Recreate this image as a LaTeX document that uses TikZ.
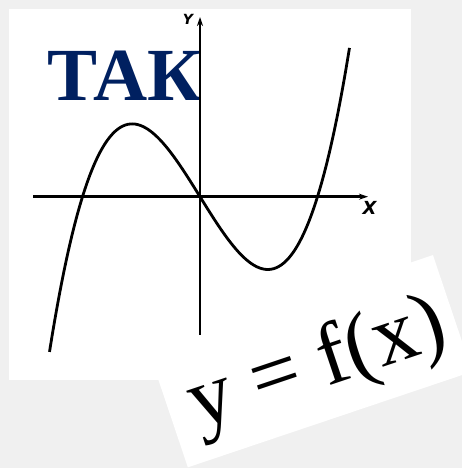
\documentclass[tikz,border=0pt]{standalone}
\usepackage{fontspec}
\setmainfont{Liberation Serif}
\newfontfamily\axisfont{DejaVu Sans}
\usepackage{xcolor}
\usepackage{tikz}
\usetikzlibrary{arrows.meta}

\definecolor{pagegrey}{RGB}{240,240,240}
\definecolor{takblue}{HTML}{002060}

\begin{document}
\begin{tikzpicture}[
    x=1pt, y=1pt,
    sheet/.style={fill=white, draw=none},
    axis/.style={line width=2.8pt, -{Stealth[length=9pt,width=6pt]}},
    curve/.style={line width=2.8pt, line join=round},
    axislabel/.style={inner sep=0pt},
    title/.style={inner sep=0pt, anchor=base west, text=takblue,
      font=\fontsize{75}{75}\selectfont\bfseries},
    formula/.style={inner sep=0pt, anchor=base, rotate=18.6,
      font=\fontsize{87}{87}\selectfont}
]
\useasboundingbox (0,0) rectangle (462,468);
\fill[pagegrey] (0,0) rectangle (462,468);
\clip (0,0) rectangle (462,468);

% paper sheets
\fill[sheet] (9,88) rectangle (411,459);
\node[sheet, rotate=18.6, minimum width=300pt, minimum height=123pt,
  inner sep=0pt] (card) at (310.4,106.8) {};

% heading
\node[title] (tak) at (47,367.3) {ТАК};

% axes
\coordinate (O) at (200,271.3);
\coordinate (xstart) at (33,271.3);
\coordinate (xend) at (368,271.3);
\coordinate (ystart) at (200,133);
\coordinate (yend) at (200,451);
\draw[axis] (xstart) -- (xend);
\draw[axis] (ystart) -- (yend);
\node[axislabel, font=\fontsize{18}{18}\axisfont\bfseries\itshape] (xlabel) at (369.5,260) {X};
\node[axislabel, font=\fontsize{14}{14}\axisfont\bfseries\itshape] (ylabel) at (188,449) {Y};

% graph of the cubic
\begin{scope}[shift={(O)}]
  \draw[curve] plot[domain=-1.505:1.495, samples=120, smooth]
    ({100*\x}, {116.6*\x*(\x*\x-1.3806)});
\end{scope}

% formula
\node[formula] (fx) at (324.7,80.9) {y = f(x)};
\end{tikzpicture}
\end{document}
